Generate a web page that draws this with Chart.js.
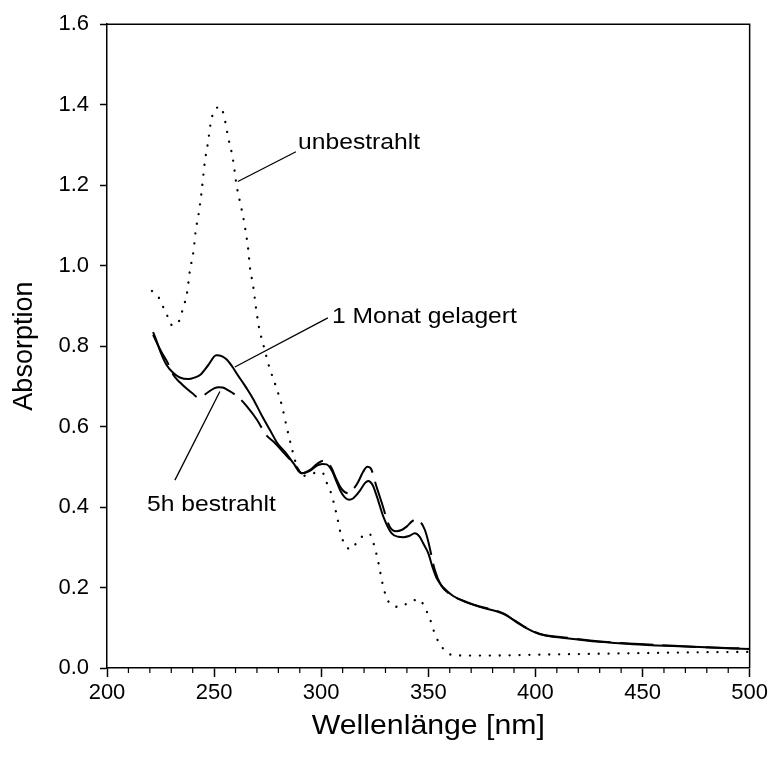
<!DOCTYPE html>
<html>
<head>
<meta charset="utf-8">
<script src="https://cdn.jsdelivr.net/npm/chart.js@4/dist/chart.umd.min.js"></script>
<style>
  html, body { margin: 0; padding: 0; background: #fff; }
  #wrap { width: 771px; height: 762px; }
</style>
</head>
<body>
<div id="wrap"><canvas id="c" width="771" height="762"></canvas></div>
<script>
// Absorption spectra, wavelength in nm
const unbestrahltNm = [221, 224, 226, 228, 230, 232, 233.6, 235, 236.4, 237.5, 238.7, 240.4, 241.4, 243, 244.2, 245.7, 247.2, 248.5, 249.8, 251.5, 253, 254.7, 256.6, 258.6, 260.6, 262.6, 264.4, 265.8, 266.7, 268.3, 269.5, 270.9, 273.2, 275.7, 278.9, 281.7, 283.8, 286, 288.6, 291, 296, 300.5, 302.5, 304.5, 307, 309, 310.6, 313.8, 317.6, 322.4, 324.6, 326.8, 328.6, 330.5, 332.5, 336.4, 341, 345.7, 348.7, 350.7, 352.3, 354, 356.8, 361.4, 366, 380, 400, 425, 450, 475, 500];
const unbestrahltAbs = [0.937, 0.922, 0.90, 0.877, 0.853, 0.852, 0.862, 0.885, 0.91, 0.937, 0.987, 1.037, 1.086, 1.136, 1.186, 1.259, 1.308, 1.357, 1.382, 1.393, 1.395, 1.37, 1.318, 1.27, 1.196, 1.146, 1.096, 1.046, 0.997, 0.947, 0.897, 0.848, 0.799, 0.749, 0.699, 0.651, 0.601, 0.552, 0.502, 0.477, 0.484, 0.486, 0.461, 0.436, 0.386, 0.336, 0.311, 0.295, 0.32, 0.334, 0.307, 0.259, 0.21, 0.175, 0.158, 0.152, 0.163, 0.171, 0.146, 0.123, 0.096, 0.073, 0.049, 0.032, 0.031, 0.031, 0.033, 0.035, 0.037, 0.039, 0.040];

const gelagertNm = [221.5, 223, 225, 227.8, 231, 234, 238, 241, 243.4, 247.3, 251, 254, 256, 259, 261, 263.6, 265.2, 268.3, 272, 276, 280, 283, 287, 290.8, 294.7, 298, 300.5, 302.5, 305, 307, 309, 311, 313, 315, 318, 320.5, 322, 324, 326, 329, 332.8, 336, 338.3, 341, 343.7, 346, 347.6, 350, 352, 353.8, 357, 361.6, 367.8, 374, 381.8, 386, 390, 395.8, 400, 403.6, 414.5, 430, 445.6, 461, 476.7, 500];
const gelagertAbs = [0.835, 0.815, 0.785, 0.753, 0.733, 0.722, 0.718, 0.722, 0.728, 0.753, 0.777, 0.774, 0.766, 0.745, 0.728, 0.708, 0.695, 0.668, 0.63, 0.592, 0.555, 0.538, 0.509, 0.484, 0.49, 0.503, 0.507, 0.506, 0.49, 0.465, 0.44, 0.424, 0.418, 0.422, 0.44, 0.46, 0.465, 0.455, 0.426, 0.376, 0.335, 0.326, 0.325, 0.328, 0.335, 0.326, 0.31, 0.285, 0.25, 0.224, 0.20, 0.179, 0.164, 0.152, 0.141, 0.132, 0.118, 0.099, 0.088, 0.082, 0.074, 0.065, 0.059, 0.055, 0.052, 0.047];

const bestrahltNm = [221.5, 224, 226, 228, 231, 234, 237, 240, 242.6, 245, 247.3, 250, 252, 254, 256, 258.5, 261.3, 265, 270, 274, 278.4, 283, 288.5, 291, 295, 298, 301, 303, 305, 307, 309, 311, 313, 315.5, 317.3, 319.5, 321.5, 323, 325.8, 328, 332, 335, 337.5, 340, 342.5, 344.5, 346.5, 348.4, 350, 353, 356, 360, 367, 374, 382, 386, 390, 396, 400, 404, 415, 430, 446, 461, 477, 500];
const bestrahltAbs = [0.828, 0.80, 0.78, 0.762, 0.728, 0.71, 0.695, 0.682, 0.672, 0.677, 0.686, 0.695, 0.698, 0.697, 0.692, 0.684, 0.673, 0.652, 0.617, 0.581, 0.559, 0.532, 0.50, 0.484, 0.493, 0.507, 0.515, 0.512, 0.495, 0.47, 0.449, 0.437, 0.434, 0.448, 0.463, 0.487, 0.50, 0.497, 0.451, 0.415, 0.351, 0.34, 0.343, 0.352, 0.365, 0.37, 0.362, 0.343, 0.314, 0.244, 0.205, 0.184, 0.165, 0.153, 0.142, 0.133, 0.119, 0.099, 0.089, 0.082, 0.075, 0.066, 0.060, 0.056, 0.052, 0.048];

const xTickLabels = [200, 250, 300, 350, 400, 450, 500];
const yTickLabels = ['0.0', '0.2', '0.4', '0.6', '0.8', '1.0', '1.2', '1.4', '1.6'];

// Callout labels: text, anchor on the curve, elbow near the text (data units)
const callouts = [
  { text: 'unbestrahlt',      from: [261.1, 1.209], to: [288.2, 1.283], at: [289.2, 1.305] },
  { text: '1 Monat gelagert', from: [259.7, 0.748], to: [303.1, 0.870], at: [305.0, 0.872] },
  { text: '5h bestrahlt',     from: [252.7, 0.687], to: [231.7, 0.467], at: [218.7, 0.405] }
];

const FONT = '"Liberation Sans", Arial, Helvetica, sans-serif';
const LABEL_STRETCH = 1.12;   // wide lettering of the labels and x title

function toPoints(xs, ys) { return xs.map((x, i) => ({ x: x, y: ys[i] })); }

// Draws horizontal text wider than the font's natural width
function wideText(ctx, text, x, y, sx) {
  ctx.save();
  ctx.translate(x, y);
  ctx.scale(sx, 1);
  ctx.fillText(text, 0, 0);
  ctx.restore();
}

const framePlugin = {
  id: 'frame',
  beforeDraw(chart) {
    // stretch the large horizontal title text drawn by the scales
    const ctx = chart.ctx;
    if (ctx.__wide) return;
    const orig = ctx.fillText;
    ctx.fillText = function (text, x, y, maxWidth) {
      const m = this.getTransform();
      const size = parseFloat((this.font.match(/(\d+(?:\.\d+)?)px/) || [0, 0])[1]);
      if (m.b === 0 && m.c === 0 && size >= 25) {
        this.save();
        this.translate(x, y);
        this.scale(LABEL_STRETCH, 1);
        orig.call(this, text, 0, 0);
        this.restore();
      } else {
        orig.call(this, text, x, y, maxWidth);
      }
    };
    ctx.__wide = true;
  },
  afterDraw(chart) {
    const { ctx, chartArea: a, scales: { x, y } } = chart;
    ctx.save();
    ctx.strokeStyle = '#000';
    ctx.lineWidth = 1.5;
    // top and right edges of the plot box
    ctx.beginPath();
    ctx.moveTo(a.left, a.top);
    ctx.lineTo(a.right, a.top);
    ctx.lineTo(a.right, a.bottom);
    ctx.stroke();
    // short minor ticks every 10 nm
    ctx.lineWidth = 1.2;
    ctx.beginPath();
    for (let v = 210; v < 500; v += 10) {
      if (v % 50 === 0) continue;
      const px = x.getPixelForValue(v);
      ctx.moveTo(px, a.bottom);
      ctx.lineTo(px, a.bottom + 5);
    }
    ctx.stroke();
    // callouts
    ctx.lineWidth = 1.3;
    ctx.fillStyle = '#000';
    ctx.font = '22px ' + FONT;
    ctx.textBaseline = 'middle';
    ctx.textAlign = 'left';
    callouts.forEach(c => {
      ctx.beginPath();
      ctx.moveTo(x.getPixelForValue(c.from[0]), y.getPixelForValue(c.from[1]));
      ctx.lineTo(x.getPixelForValue(c.to[0]), y.getPixelForValue(c.to[1]));
      ctx.stroke();
      wideText(ctx, c.text, x.getPixelForValue(c.at[0]), y.getPixelForValue(c.at[1]), LABEL_STRETCH);
    });
    ctx.restore();
  }
};

new Chart(document.getElementById('c'), {
  type: 'line',
  data: {
    datasets: [
      {
        label: 'unbestrahlt',
        data: toPoints(unbestrahltNm, unbestrahltAbs),
        borderColor: '#000',
        borderWidth: 2.3,
        borderDash: [0.1, 9.8],
        borderCapStyle: 'round',
        pointRadius: 0,
        cubicInterpolationMode: 'monotone',
        fill: false
      },
      {
        label: '1 Monat gelagert',
        data: toPoints(gelagertNm, gelagertAbs),
        borderColor: '#000',
        borderWidth: 2,
        pointRadius: 0,
        cubicInterpolationMode: 'monotone',
        fill: false
      },
      {
        label: '5h bestrahlt',
        data: toPoints(bestrahltNm, bestrahltAbs),
        borderColor: '#000',
        borderWidth: 2,
        borderDash: [34, 9],
        pointRadius: 0,
        cubicInterpolationMode: 'monotone',
        fill: false
      }
    ]
  },
  options: {
    responsive: false,
    animation: false,
    devicePixelRatio: 1,
    layout: { padding: { top: 24, right: 21, left: 0, bottom: 0 } },
    plugins: { legend: { display: false }, tooltip: { enabled: false } },
    scales: {
      x: {
        type: 'linear',
        position: 'bottom',
        min: 200,
        max: 500,
        afterFit: s => { s.height = 94; },
        afterBuildTicks: s => {
          const t = [];
          for (let v = 200; v <= 500; v += 10) t.push({ value: v });
          s.ticks = t;
        },
        ticks: {
          autoSkip: false,
          maxRotation: 0,
          padding: 3,
          color: '#000',
          font: { family: FONT, size: 22 },
          callback: v => (xTickLabels.includes(v) ? String(v) : '')
        },
        grid: {
          drawOnChartArea: false,
          drawTicks: true,
          tickLength: 9,
          tickWidth: 1.5,
          tickColor: c => (c.tick && c.tick.value % 50 === 0 ? '#000' : 'rgba(0,0,0,0)')
        },
        border: { color: '#000', width: 1.5 },
        title: {
          display: true,
          text: 'Wellenlänge [nm]',
          color: '#000',
          font: { family: FONT, size: 27 },
          padding: { top: 0, bottom: 19 }
        }
      },
      y: {
        type: 'linear',
        min: 0,
        max: 1.6,
        afterFit: s => { s.width = 107; },
        afterBuildTicks: s => {
          s.ticks = yTickLabels.map(l => ({ value: parseFloat(l) }));
        },
        ticks: {
          padding: 11,
          color: '#000',
          font: { family: FONT, size: 22 },
          callback: v => v.toFixed(1)
        },
        grid: {
          drawOnChartArea: false,
          drawTicks: true,
          tickLength: 7,
          tickWidth: 1.5,
          tickColor: '#000'
        },
        border: { color: '#000', width: 1.5 },
        title: {
          display: true,
          text: 'Absorption',
          color: '#000',
          font: { family: FONT, size: 27 },
          padding: { top: 8, bottom: 0 }
        }
      }
    }
  },
  plugins: [framePlugin]
});
</script>
</body>
</html>
